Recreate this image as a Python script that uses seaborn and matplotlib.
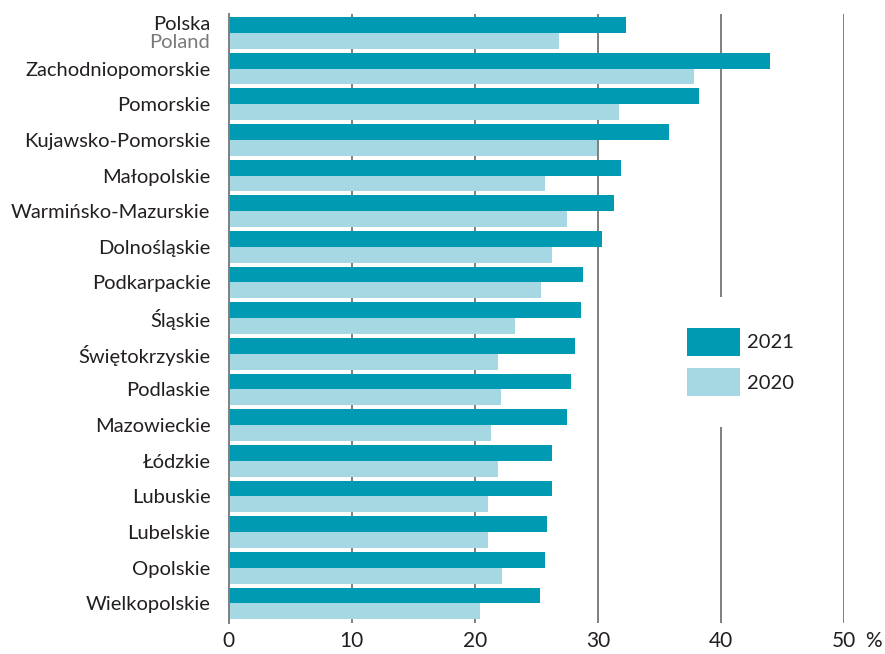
import pandas as pd
import numpy as np
import seaborn as sns
import matplotlib.pyplot as plt

# data
regions = ["Polska", "Zachodniopomorskie", "Pomorskie", "Kujawsko-Pomorskie", "Małopolskie",
           "Warmińsko-Mazurskie", "Dolnośląskie", "Podkarpackie", "Śląskie", "Świętokrzyskie",
           "Podlaskie", "Mazowieckie", "Łódzkie", "Lubuskie", "Lubelskie", "Opolskie", "Wielkopolskie"]
values_2021 = [32.3, 44.0, 38.2, 35.8, 31.9, 31.3, 30.3, 28.8, 28.6, 28.1, 27.8, 27.5, 26.3, 26.3, 25.9, 25.7, 25.3]
values_2020 = [26.8, 37.8, 31.7, 29.9, 25.7, 27.5, 26.3, 25.4, 23.3, 21.9, 22.1, 21.3, 21.9, 21.1, 21.1, 22.2, 20.4]
years = ["2021", "2020"]
polska_en = "Poland"
x_ticks = [0, 10, 20, 30, 40, 50]

dark = "#009bb2"
light = "#a5d8e2"
grid_c = "#7f7f7f"
text_c = "#231f20"

df = pd.DataFrame({
    "region": regions * 2,
    "value": values_2021 + values_2020,
    "year": [years[0]] * len(regions) + [years[1]] * len(regions),
})

sns.set_style("white")
plt.rcParams["font.family"] = ["Lato", "DejaVu Sans"]

fig = plt.figure(figsize=(8.85, 6.54), dpi=100)
ax = fig.add_axes([228.5 / 885, 1 - 623 / 654, (844.3 - 228.5) / 885, (623 - 14) / 654])

sns.barplot(data=df, y="region", x="value", hue="year", hue_order=years,
            palette=[dark, light], order=regions, orient="h", width=0.885,
            saturation=1, linewidth=0, ax=ax)

ax.set_xlim(0, 50)
ax.set_ylim(16.55, -0.53)
ax.set_axisbelow(True)
ax.xaxis.grid(True, color=grid_c, linewidth=1.4)
ax.yaxis.grid(False)
ax.set_xticks(x_ticks)
ax.set_xticklabels([str(t) for t in x_ticks], fontsize=15, color=text_c)
ax.tick_params(axis="x", length=0, pad=6)
ax.tick_params(axis="y", length=0, pad=13)
ax.set_xlabel("")
ax.set_ylabel("")

labels = [""] + regions[1:]
ax.set_yticks(range(len(regions)))
ax.set_yticklabels(labels, fontsize=14.5, color=text_c)

# Polska / Poland two-line label
trans = ax.get_yaxis_transform()
ax.text(-0.03, -0.24, regions[0], transform=trans, ha="right", va="center",
        fontsize=14.5, color=text_c)
ax.text(-0.03, 0.27, polska_en, transform=trans, ha="right", va="center",
        fontsize=14.5, color="#7a7a7a")

for s in ["top", "right", "bottom"]:
    ax.spines[s].set_visible(False)
ax.spines["left"].set_color(grid_c)
ax.spines["left"].set_linewidth(1.4)

fig.text(873 / 885, 1 - 641 / 654, "%", fontsize=15, color=text_c, ha="center", va="center")

leg = ax.legend(loc="center left", bbox_to_anchor=(656 / 885, 1 - 362 / 654),
                bbox_transform=fig.transFigure, frameon=True, facecolor="white",
                edgecolor="none", framealpha=1, fontsize=14.5, handlelength=2.63,
                handleheight=1.73, labelspacing=0.645, handletextpad=0.35,
                borderpad=1.54, borderaxespad=0, fancybox=False)
for t in leg.get_texts():
    t.set_color(text_c)

fig.savefig("out.png", dpi=100)
